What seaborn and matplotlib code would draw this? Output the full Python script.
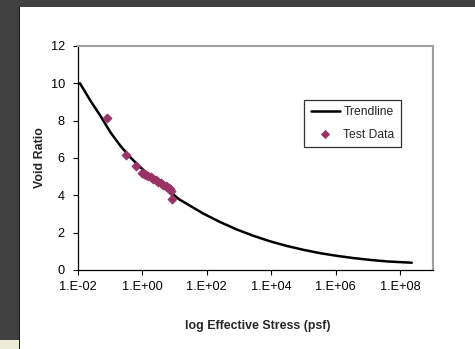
import matplotlib
matplotlib.use("Agg")
import matplotlib.pyplot as plt
import matplotlib.patches as mpatches
from matplotlib.ticker import FixedLocator, FixedFormatter, NullLocator
import seaborn as sns
import pandas as pd

# Trendline points
trend_stress = [0.0115, 0.0247, 0.050, 0.103, 0.21, 0.43, 0.89, 2.3, 5.9, 13.7,
                23.6, 78, 257, 850, 2.8e3, 9.1e3, 3.0e4, 1.0e5, 3.3e5, 1.07e6,
                3.5e6, 1.17e7, 3.9e7, 2.3e8]
trend_void = [10.0, 9.05, 8.25, 7.36, 6.64, 6.02, 5.48, 4.86, 4.32, 3.79,
              3.55, 3.02, 2.57, 2.17, 1.83, 1.54, 1.29, 1.08, 0.90, 0.76,
              0.64, 0.54, 0.46, 0.39]

# Test data points
test_stress = [0.081, 0.32, 0.65, 1.0, 1.1, 1.26, 1.45, 1.8, 2.1, 2.6, 3.0, 3.7,
               4.3, 5.3, 6.0, 6.7, 7.2, 7.6, 8.1]
test_void = [8.16, 6.16, 5.57, 5.21, 5.15, 5.09, 5.03, 4.98, 4.90, 4.82, 4.73, 4.64,
             4.57, 4.50, 4.45, 4.41, 4.32, 4.23, 3.82]

x_ticks = [1e-2, 1e0, 1e2, 1e4, 1e6, 1e8]
x_tick_labels = ["1.E-02", "1.E+00", "1.E+02", "1.E+04", "1.E+06", "1.E+08"]
y_ticks = [0, 2, 4, 6, 8, 10, 12]

trend_df = pd.DataFrame({"stress": trend_stress, "void": trend_void})
test_df = pd.DataFrame({"stress": test_stress, "void": test_void})

sns.set_style("white")
plt.rcParams["font.family"] = ["Liberation Sans", "DejaVu Sans"]

fig = plt.figure(figsize=(4.75, 3.49), dpi=100)
fig.patch.set_facecolor("#404040")
# white page area
fig.patches.append(mpatches.Rectangle((20 / 475, 0), 1 - 20 / 475, 1 - 7 / 349,
                                      transform=fig.transFigure, facecolor="white",
                                      edgecolor="none", zorder=-10))
fig.patches.append(mpatches.Rectangle((19 / 475, 0), 1 / 475, 1 - 7 / 349,
                                      transform=fig.transFigure, facecolor="#1a1a1a",
                                      edgecolor="none", zorder=-10))
fig.patches.append(mpatches.Rectangle((0, 0), 19 / 475, 9 / 349,
                                      transform=fig.transFigure, facecolor="#ecebd8",
                                      edgecolor="none", zorder=-10))

ax = fig.add_axes([78 / 475, 1 - 270 / 349, (433 - 78) / 475, (270 - 46) / 349])
ax.set_zorder(5)
ax.set_facecolor("white")

sns.lineplot(data=trend_df, x="stress", y="void", ax=ax, color="black",
             linewidth=1.8, label="Trendline", sort=True)
sns.scatterplot(data=test_df, x="stress", y="void", ax=ax, color="#993366",
                marker="D", s=22, edgecolor="#993366", linewidth=0.5,
                label="Test Data", zorder=3)

ax.set_xscale("log")
ax.set_xlim(1e-2, 10 ** 9.02)
ax.set_ylim(0, 12)
ax.xaxis.set_major_locator(FixedLocator(x_ticks))
ax.xaxis.set_major_formatter(FixedFormatter(x_tick_labels))
ax.xaxis.set_minor_locator(NullLocator())
ax.set_yticks(y_ticks)

ax.tick_params(axis="both", which="major", direction="out", length=3.5, width=0.8,
               labelsize=9.2, colors="black", bottom=True, left=True)
ax.tick_params(axis="x", pad=4.5)
ax.tick_params(axis="y", pad=6)

for side in ["left", "bottom"]:
    ax.spines[side].set_color("black")
    ax.spines[side].set_linewidth(0.9)
for side in ["top", "right"]:
    ax.spines[side].set_visible(True)
    ax.spines[side].set_color("#a0a0a0")
    ax.spines[side].set_linewidth(1.5)

ax.set_xlabel("log Effective Stress (psf)", fontsize=8.9, fontweight="bold")
ax.set_ylabel("Void Ratio", fontsize=8.9, fontweight="bold")
ax.xaxis.set_label_coords(0.507, -0.225)
ax.yaxis.set_label_coords(-0.09, 0.5)

leg = ax.legend(loc="upper left", bbox_to_anchor=((304 - 78) / 355, (270 - 99.7) / 224),
                frameon=True, fancybox=False, fontsize=8.7, handlelength=2.4,
                handletextpad=0.3, borderpad=0.55, labelspacing=0.85,
                borderaxespad=0, markerscale=0.9)
leg.get_frame().set_edgecolor("black")
leg.get_frame().set_linewidth(0.9)

fig.savefig("out.png", dpi=100, facecolor=fig.get_facecolor())
